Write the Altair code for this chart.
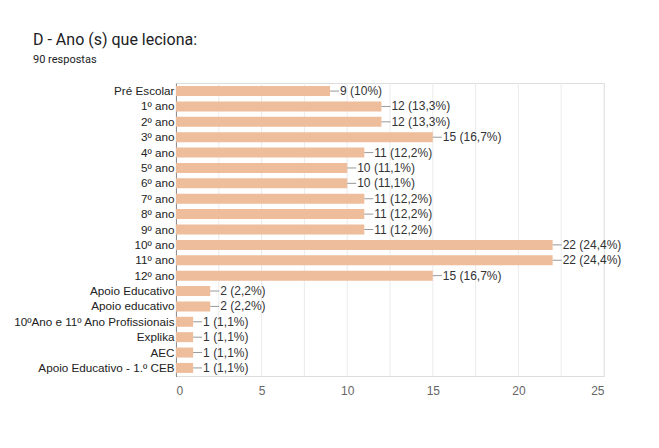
import altair as alt
import pandas as pd

categories = [
    "Pré Escolar", "1º ano", "2º ano", "3º ano", "4º ano", "5º ano", "6º ano",
    "7º ano", "8º ano", "9º ano", "10º ano", "11º ano", "12º ano",
    "Apoio Educativo", "Apoio educativo", "10ºAno e 11º Ano Profissionais",
    "Explika", "AEC", "Apoio Educativo - 1.º CEB",
]
counts = [9, 12, 12, 15, 11, 10, 10, 11, 11, 11, 22, 22, 15, 2, 2, 1, 1, 1, 1]
percents = ["10%", "13,3%", "13,3%", "16,7%", "12,2%", "11,1%", "11,1%", "12,2%",
            "12,2%", "12,2%", "24,4%", "24,4%", "16,7%", "2,2%", "2,2%", "1,1%",
            "1,1%", "1,1%", "1,1%"]
x_ticks = [0, 5, 10, 15, 20, 25]
grid_ticks = [0, 2.5, 5, 7.5, 10, 12.5, 15, 17.5, 20, 22.5, 25]

df = pd.DataFrame({
    "cat": categories,
    "n": counts,
    "label": [f"{c} ({p})" for c, p in zip(counts, percents)],
})

FONT = "Liberation Sans"

y_enc = alt.Y("cat:N", sort=categories, title=None,
              scale=alt.Scale(paddingInner=0.35, paddingOuter=0.2),
              axis=alt.Axis(labelFont=FONT, labelFontSize=11.7, labelColor="#222222",
                            ticks=False, labelPadding=2, domainColor="#333333",
                            domainWidth=1, grid=False, labelLimit=300))
x_scale = alt.Scale(domain=[0, 25], nice=False)

bars = alt.Chart(df).mark_bar(color="#eebd9c").encode(
    x=alt.X("n:Q", scale=x_scale, title=None,
            axis=alt.Axis(values=x_ticks, labelFont=FONT, labelFontSize=12,
                          labelColor="#666666", ticks=False, domain=False,
                          labelPadding=9, grid=False)),
    y=y_enc,
)

grid = alt.Chart(pd.DataFrame({"g": grid_ticks})).mark_rule(
    color="#ebebeb", strokeWidth=1
).encode(x=alt.X("g:Q", scale=x_scale))

connectors = alt.Chart(df).mark_rule(color="#999999", strokeWidth=1, x2Offset=9).encode(
    x=alt.X("n:Q", scale=x_scale),
    x2="n:Q",
    y=alt.Y("cat:N", sort=categories),
)

labels = alt.Chart(df).mark_text(
    align="left", baseline="middle", dx=10, font=FONT, fontSize=12, color="#333333"
).encode(
    x=alt.X("n:Q", scale=x_scale),
    y=alt.Y("cat:N", sort=categories),
    text="label:N",
)

chart = alt.layer(grid, bars, connectors, labels).properties(
    width=428,
    height=293,
    padding={"left": 4, "top": 23, "right": 20, "bottom": 10},
    title=alt.TitleParams(
        text="D - Ano (s) que leciona:",
        subtitle="90 respostas",
        anchor="start",
        frame="bounds",
        dx=20,
        font="Roboto",
        fontSize=16,
        fontWeight="normal",
        color="#202124",
        subtitleFont="Roboto",
        subtitleFontSize=11,
        subtitleColor="#202124",
        subtitlePadding=6,
        offset=18,
    ),
).configure_view(stroke="#ebebeb", strokeWidth=1).configure(background="white")

chart.save("out.html", embed_options={"renderer": "svg", "actions": False})
